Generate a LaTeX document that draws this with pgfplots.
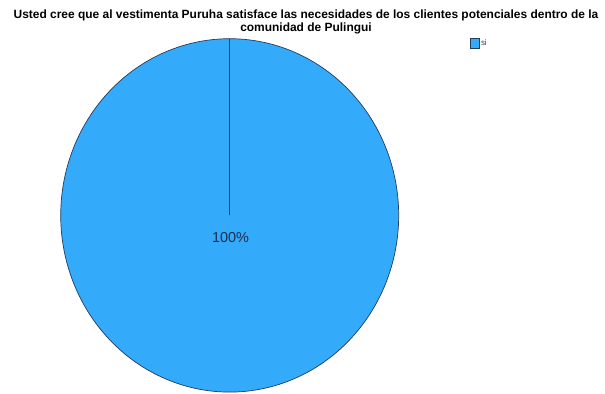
\documentclass[border=0pt]{standalone}
\usepackage{pgfplots}
\usepackage{pgfplotstable}
\pgfplotsset{compat=1.18}
\usepackage{fontspec}
\setmainfont{Liberation Sans}
\definecolor{pieblue}{RGB}{51,170,250}
\definecolor{pieedge}{RGB}{35,60,95}
\definecolor{labelcol}{RGB}{30,45,80}
\pgfplotstableread{
label value
si 100
}\pietable
\begin{document}
\begin{tikzpicture}
\pgfplotstablegetelem{0}{value}\of\pietable
\pgfmathsetmacro{\sweep}{3.6*\pgfplotsretval}
\begin{axis}[
  scale only axis, width=605bp, height=394bp,
  xmin=0, xmax=605, ymin=0, ymax=394,
  axis lines=none, ticks=none, clip=false,
  legend style={at={(axis cs:470,356)}, anchor=north west, draw=none, fill=none,
    inner sep=0pt, font=\fontsize{8}{9}\selectfont\color{black!75},
    nodes={inner sep=1bp}},
  legend image code/.code={\draw[#1, draw=pieedge, line width=0.8bp] (0bp,-5bp) rectangle (9bp,5bp);},
]
\path (axis cs:0,0) rectangle (axis cs:605,394);
\addplot[fill=pieblue, draw=pieedge, line width=0.7bp, domain=0:\sweep, samples=241, variable=\t]
  ({229.7 + 169*sin(\t)}, {178.6 + 176.7*cos(\t)}) -- cycle;
\addlegendentry{si}
\addplot[draw=pieedge, line width=0.9bp, forget plot] coordinates {(229.7,178.6) (229.7,355.3)};
\node[anchor=center, font=\fontsize{14.5}{16}\selectfont, text=labelcol] at (axis cs:230.5,156) {100\%};
\node[anchor=base, font=\bfseries\fontsize{12}{13}\selectfont] at (axis cs:306,375) {Usted cree que al vestimenta Puruha satisface las necesidades de los clientes potenciales dentro de la};
\node[anchor=base, font=\bfseries\fontsize{12}{13}\selectfont] at (axis cs:306,362.5) {comunidad de Pulingui};
\end{axis}
\end{tikzpicture}
\end{document}
